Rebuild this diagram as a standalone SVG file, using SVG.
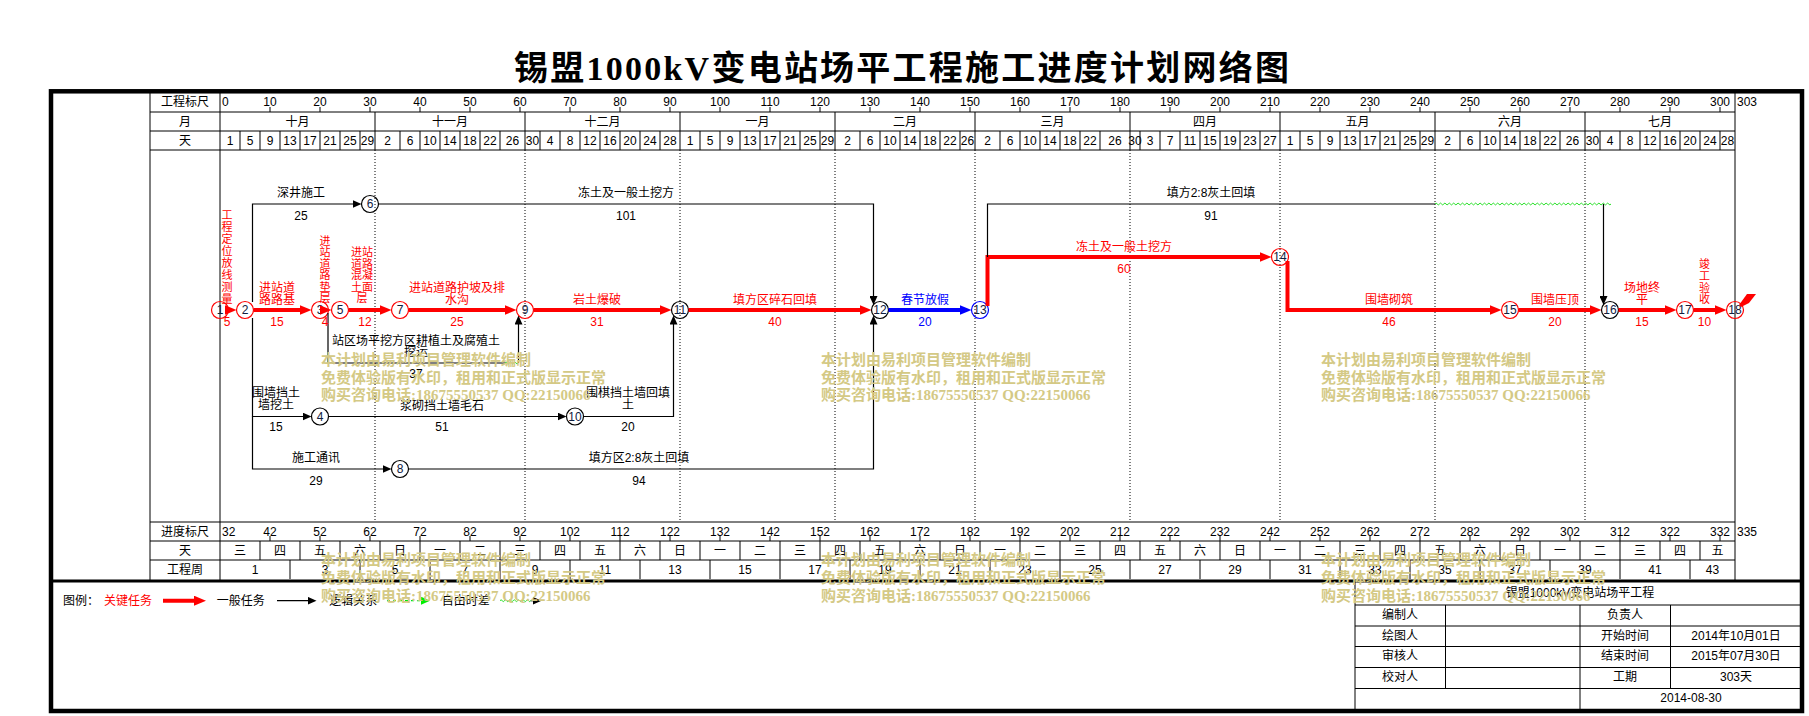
<svg xmlns="http://www.w3.org/2000/svg" width="1809" height="716" viewBox="0 0 1809 716">
<style>
text{font-family:"Liberation Sans","Noto Sans CJK SC",sans-serif;font-size:12px;fill:#000;text-anchor:middle;dominant-baseline:central}
.st{text-anchor:start}
.r{fill:#f00}
.bl{fill:#00f}
.v{font-size:11px}
.g{stroke:#000;stroke-width:1;fill:none}
.dot{stroke:#000;stroke-width:1;stroke-dasharray:1 2;fill:none}
.crit{stroke:#f00;stroke-width:4;fill:none;marker-end:url(#ar)}
.blu{stroke:#00f;stroke-width:4;fill:none;marker-end:url(#ab)}
.norm{stroke:#000;stroke-width:1.2;fill:none}
.arr{marker-end:url(#ak)}
.wave{stroke:#22e022;stroke-width:1;fill:none}
.nd{fill:none;stroke-width:1.2}
.nr{stroke:#f00}.nk{stroke:#000}.nb{stroke:#00f}
.num{fill:#102040}
.wm{font-family:"Liberation Serif","Noto Sans CJK SC",serif;font-weight:bold;font-size:15px;fill:#d4c985;text-anchor:start}
</style>
<defs>
<marker id="ar" viewBox="0 0 12 10" refX="4" refY="5" markerWidth="12" markerHeight="10" markerUnits="userSpaceOnUse" orient="auto"><path d="M0,0L12,5L0,10z" fill="#f00"/></marker>
<marker id="ab" viewBox="0 0 12 10" refX="4" refY="5" markerWidth="12" markerHeight="10" markerUnits="userSpaceOnUse" orient="auto"><path d="M0,0L12,5L0,10z" fill="#00f"/></marker>
<marker id="ak" viewBox="0 0 9 8" refX="2" refY="4" markerWidth="9" markerHeight="8" markerUnits="userSpaceOnUse" orient="auto"><path d="M0,0L9,4L0,8z" fill="#000"/></marker>
<marker id="ag" viewBox="0 0 9 8" refX="2" refY="4" markerWidth="9" markerHeight="8" markerUnits="userSpaceOnUse" orient="auto"><path d="M0,0L9,4L0,8z" fill="#0e0"/></marker>
</defs>
<rect width="1809" height="716" fill="#fff"/>
<text x="901.5" y="68" style="font-family:'Liberation Serif','Noto Sans CJK SC',serif;font-size:34px;font-weight:bold" textLength="775" lengthAdjust="spacing">锡盟1000kV变电站场平工程施工进度计划网络图</text>
<rect x="51" y="91.3" width="1751" height="619.7" fill="none" stroke="#000" stroke-width="4.5"/>
<g id="grid">
<path class="g" d="M150,91V581M220,91V581M1735,91V581M150,112H1735M150,131H1735M150,150H1735M150,522H1735M150,541H1735M150,560H1735"/>
<path d="M51,581H1802" stroke="#000" stroke-width="3"/>
<path class="g" d="M375,112V131M525,112V131M680,112V131M835,112V131M975,112V131M1130,112V131M1280,112V131M1435,112V131M1585,112V131"/>
<path class="g" d="M240,131V150M260,131V150M280,131V150M300,131V150M320,131V150M340,131V150M360,131V150M375,131V150M400,131V150M420,131V150M440,131V150M460,131V150M480,131V150M500,131V150M525,131V150M540,131V150M560,131V150M580,131V150M600,131V150M620,131V150M640,131V150M660,131V150M680,131V150M700,131V150M720,131V150M740,131V150M760,131V150M780,131V150M800,131V150M820,131V150M835,131V150M860,131V150M880,131V150M900,131V150M920,131V150M940,131V150M960,131V150M975,131V150M1000,131V150M1020,131V150M1040,131V150M1060,131V150M1080,131V150M1100,131V150M1130,131V150M1140,131V150M1160,131V150M1180,131V150M1200,131V150M1220,131V150M1240,131V150M1260,131V150M1280,131V150M1300,131V150M1320,131V150M1340,131V150M1360,131V150M1380,131V150M1400,131V150M1420,131V150M1435,131V150M1460,131V150M1480,131V150M1500,131V150M1520,131V150M1540,131V150M1560,131V150M1585,131V150M1600,131V150M1620,131V150M1640,131V150M1660,131V150M1680,131V150M1700,131V150M1720,131V150"/>
<path class="g" d="M270,107V112M320,107V112M370,107V112M420,107V112M470,107V112M520,107V112M570,107V112M620,107V112M670,107V112M720,107V112M770,107V112M820,107V112M870,107V112M920,107V112M970,107V112M1020,107V112M1070,107V112M1120,107V112M1170,107V112M1220,107V112M1270,107V112M1320,107V112M1370,107V112M1420,107V112M1470,107V112M1520,107V112M1570,107V112M1620,107V112M1670,107V112M1720,107V112"/>
<path class="g" d="M270,536V541M320,536V541M370,536V541M420,536V541M470,536V541M520,536V541M570,536V541M620,536V541M670,536V541M720,536V541M770,536V541M820,536V541M870,536V541M920,536V541M970,536V541M1020,536V541M1070,536V541M1120,536V541M1170,536V541M1220,536V541M1270,536V541M1320,536V541M1370,536V541M1420,536V541M1470,536V541M1520,536V541M1570,536V541M1620,536V541M1670,536V541M1720,536V541"/>
<path class="g" d="M260,541V560M300,541V560M340,541V560M380,541V560M420,541V560M460,541V560M500,541V560M540,541V560M580,541V560M620,541V560M660,541V560M700,541V560M740,541V560M780,541V560M820,541V560M860,541V560M900,541V560M940,541V560M980,541V560M1020,541V560M1060,541V560M1100,541V560M1140,541V560M1180,541V560M1220,541V560M1260,541V560M1300,541V560M1340,541V560M1380,541V560M1420,541V560M1460,541V560M1500,541V560M1540,541V560M1580,541V560M1620,541V560M1660,541V560M1700,541V560"/>
<path class="g" d="M290,560V579M360,560V579M430,560V579M500,560V579M570,560V579M640,560V579M710,560V579M780,560V579M850,560V579M920,560V579M990,560V579M1060,560V579M1130,560V579M1200,560V579M1270,560V579M1340,560V579M1410,560V579M1480,560V579M1550,560V579M1620,560V579M1690,560V579"/>
<path class="dot" d="M375,150V522M525,150V522M680,150V522M835,150V522M975,150V522M1130,150V522M1280,150V522M1435,150V522M1585,150V522"/>
</g>
<g id="header">
<text x="185" y="101.5">工程标尺</text><text x="185" y="121.5">月</text><text x="185" y="140.5">天</text>
<text x="222" y="101.5" class="st">0</text><text x="270" y="101.5">10</text><text x="320" y="101.5">20</text><text x="370" y="101.5">30</text><text x="420" y="101.5">40</text><text x="470" y="101.5">50</text><text x="520" y="101.5">60</text><text x="570" y="101.5">70</text><text x="620" y="101.5">80</text><text x="670" y="101.5">90</text><text x="720" y="101.5">100</text><text x="770" y="101.5">110</text><text x="820" y="101.5">120</text><text x="870" y="101.5">130</text><text x="920" y="101.5">140</text><text x="970" y="101.5">150</text><text x="1020" y="101.5">160</text><text x="1070" y="101.5">170</text><text x="1120" y="101.5">180</text><text x="1170" y="101.5">190</text><text x="1220" y="101.5">200</text><text x="1270" y="101.5">210</text><text x="1320" y="101.5">220</text><text x="1370" y="101.5">230</text><text x="1420" y="101.5">240</text><text x="1470" y="101.5">250</text><text x="1520" y="101.5">260</text><text x="1570" y="101.5">270</text><text x="1620" y="101.5">280</text><text x="1670" y="101.5">290</text><text x="1720" y="101.5">300</text><text x="1737" y="101.5" class="st">303</text>
<text x="297.5" y="121.5">十月</text><text x="450" y="121.5">十一月</text><text x="602.5" y="121.5">十二月</text><text x="757.5" y="121.5">一月</text><text x="905" y="121.5">二月</text><text x="1052.5" y="121.5">三月</text><text x="1205" y="121.5">四月</text><text x="1357.5" y="121.5">五月</text><text x="1510" y="121.5">六月</text><text x="1660" y="121.5">七月</text>
<text x="230" y="140.5">1</text><text x="250" y="140.5">5</text><text x="270" y="140.5">9</text><text x="290" y="140.5">13</text><text x="310" y="140.5">17</text><text x="330" y="140.5">21</text><text x="350" y="140.5">25</text><text x="367.5" y="140.5">29</text><text x="387.5" y="140.5">2</text><text x="410" y="140.5">6</text><text x="430" y="140.5">10</text><text x="450" y="140.5">14</text><text x="470" y="140.5">18</text><text x="490" y="140.5">22</text><text x="512.5" y="140.5">26</text><text x="532.5" y="140.5">30</text><text x="550" y="140.5">4</text><text x="570" y="140.5">8</text><text x="590" y="140.5">12</text><text x="610" y="140.5">16</text><text x="630" y="140.5">20</text><text x="650" y="140.5">24</text><text x="670" y="140.5">28</text><text x="690" y="140.5">1</text><text x="710" y="140.5">5</text><text x="730" y="140.5">9</text><text x="750" y="140.5">13</text><text x="770" y="140.5">17</text><text x="790" y="140.5">21</text><text x="810" y="140.5">25</text><text x="827.5" y="140.5">29</text><text x="847.5" y="140.5">2</text><text x="870" y="140.5">6</text><text x="890" y="140.5">10</text><text x="910" y="140.5">14</text><text x="930" y="140.5">18</text><text x="950" y="140.5">22</text><text x="967.5" y="140.5">26</text><text x="987.5" y="140.5">2</text><text x="1010" y="140.5">6</text><text x="1030" y="140.5">10</text><text x="1050" y="140.5">14</text><text x="1070" y="140.5">18</text><text x="1090" y="140.5">22</text><text x="1115" y="140.5">26</text><text x="1135" y="140.5">30</text><text x="1150" y="140.5">3</text><text x="1170" y="140.5">7</text><text x="1190" y="140.5">11</text><text x="1210" y="140.5">15</text><text x="1230" y="140.5">19</text><text x="1250" y="140.5">23</text><text x="1270" y="140.5">27</text><text x="1290" y="140.5">1</text><text x="1310" y="140.5">5</text><text x="1330" y="140.5">9</text><text x="1350" y="140.5">13</text><text x="1370" y="140.5">17</text><text x="1390" y="140.5">21</text><text x="1410" y="140.5">25</text><text x="1427.5" y="140.5">29</text><text x="1447.5" y="140.5">2</text><text x="1470" y="140.5">6</text><text x="1490" y="140.5">10</text><text x="1510" y="140.5">14</text><text x="1530" y="140.5">18</text><text x="1550" y="140.5">22</text><text x="1572.5" y="140.5">26</text><text x="1592.5" y="140.5">30</text><text x="1610" y="140.5">4</text><text x="1630" y="140.5">8</text><text x="1650" y="140.5">12</text><text x="1670" y="140.5">16</text><text x="1690" y="140.5">20</text><text x="1710" y="140.5">24</text><text x="1727.5" y="140.5">28</text>
</g>
<g id="bottom-scale">
<text x="185" y="531.5">进度标尺</text><text x="185" y="550.5">天</text><text x="185" y="570">工程周</text>
<text x="222" y="531.5" class="st">32</text><text x="270" y="531.5">42</text><text x="320" y="531.5">52</text><text x="370" y="531.5">62</text><text x="420" y="531.5">72</text><text x="470" y="531.5">82</text><text x="520" y="531.5">92</text><text x="570" y="531.5">102</text><text x="620" y="531.5">112</text><text x="670" y="531.5">122</text><text x="720" y="531.5">132</text><text x="770" y="531.5">142</text><text x="820" y="531.5">152</text><text x="870" y="531.5">162</text><text x="920" y="531.5">172</text><text x="970" y="531.5">182</text><text x="1020" y="531.5">192</text><text x="1070" y="531.5">202</text><text x="1120" y="531.5">212</text><text x="1170" y="531.5">222</text><text x="1220" y="531.5">232</text><text x="1270" y="531.5">242</text><text x="1320" y="531.5">252</text><text x="1370" y="531.5">262</text><text x="1420" y="531.5">272</text><text x="1470" y="531.5">282</text><text x="1520" y="531.5">292</text><text x="1570" y="531.5">302</text><text x="1620" y="531.5">312</text><text x="1670" y="531.5">322</text><text x="1720" y="531.5">332</text><text x="1737" y="531.5" class="st">335</text>
<text x="240" y="550.5">三</text><text x="280" y="550.5">四</text><text x="320" y="550.5">五</text><text x="360" y="550.5">六</text><text x="400" y="550.5">日</text><text x="440" y="550.5">一</text><text x="480" y="550.5">二</text><text x="520" y="550.5">三</text><text x="560" y="550.5">四</text><text x="600" y="550.5">五</text><text x="640" y="550.5">六</text><text x="680" y="550.5">日</text><text x="720" y="550.5">一</text><text x="760" y="550.5">二</text><text x="800" y="550.5">三</text><text x="840" y="550.5">四</text><text x="880" y="550.5">五</text><text x="920" y="550.5">六</text><text x="960" y="550.5">日</text><text x="1000" y="550.5">一</text><text x="1040" y="550.5">二</text><text x="1080" y="550.5">三</text><text x="1120" y="550.5">四</text><text x="1160" y="550.5">五</text><text x="1200" y="550.5">六</text><text x="1240" y="550.5">日</text><text x="1280" y="550.5">一</text><text x="1320" y="550.5">二</text><text x="1360" y="550.5">三</text><text x="1400" y="550.5">四</text><text x="1440" y="550.5">五</text><text x="1480" y="550.5">六</text><text x="1520" y="550.5">日</text><text x="1560" y="550.5">一</text><text x="1600" y="550.5">二</text><text x="1640" y="550.5">三</text><text x="1680" y="550.5">四</text><text x="1717.5" y="550.5">五</text>
<text x="255" y="569.5">1</text><text x="325" y="569.5">3</text><text x="395" y="569.5">5</text><text x="465" y="569.5">7</text><text x="535" y="569.5">9</text><text x="605" y="569.5">11</text><text x="675" y="569.5">13</text><text x="745" y="569.5">15</text><text x="815" y="569.5">17</text><text x="885" y="569.5">19</text><text x="955" y="569.5">21</text><text x="1025" y="569.5">23</text><text x="1095" y="569.5">25</text><text x="1165" y="569.5">27</text><text x="1235" y="569.5">29</text><text x="1305" y="569.5">31</text><text x="1375" y="569.5">33</text><text x="1445" y="569.5">35</text><text x="1515" y="569.5">37</text><text x="1585" y="569.5">39</text><text x="1655" y="569.5">41</text><text x="1712.5" y="569.5">43</text>
</g>
<g id="node1"><circle class="nd nr" cx="220" cy="310" r="8.5"/><text class="num" x="220" y="310">1</text></g>
<g id="node2"><circle class="nd nr" cx="245" cy="310" r="8.5"/><text class="num" x="245" y="310">2</text></g>
<g id="node3"><circle class="nd nr" cx="320" cy="310" r="8.5"/><text class="num" x="320" y="310">3</text></g>
<g id="node4"><circle class="nd nk" cx="320" cy="416.5" r="8.5"/><text class="num" x="320" y="416.5">4</text></g>
<g id="node5"><circle class="nd nr" cx="340" cy="310" r="8.5"/><text class="num" x="340" y="310">5</text></g>
<g id="node6"><circle class="nd nk" cx="370" cy="204" r="8.5"/><text class="num" x="370" y="204">6</text></g>
<g id="node7"><circle class="nd nr" cx="400" cy="310" r="8.5"/><text class="num" x="400" y="310">7</text></g>
<g id="node8"><circle class="nd nk" cx="400" cy="469" r="8.5"/><text class="num" x="400" y="469">8</text></g>
<g id="node9"><circle class="nd nr" cx="525" cy="310" r="8.5"/><text class="num" x="525" y="310">9</text></g>
<g id="node10"><circle class="nd nk" cx="575" cy="416.5" r="8.5"/><text class="num" x="575" y="416.5">10</text></g>
<g id="node11"><circle class="nd nk" cx="680" cy="310" r="8.5"/><text class="num" x="680" y="310">11</text></g>
<g id="node12"><circle class="nd nk" cx="880" cy="310" r="8.5"/><text class="num" x="880" y="310">12</text></g>
<g id="node13"><circle class="nd nb" cx="980" cy="310" r="8.5"/><text class="num" x="980" y="310">13</text></g>
<g id="node14"><circle class="nd nr" cx="1280" cy="257" r="8.5"/><text class="num" x="1280" y="257">14</text></g>
<g id="node15"><circle class="nd nr" cx="1510" cy="310" r="8.5"/><text class="num" x="1510" y="310">15</text></g>
<g id="node16"><circle class="nd nk" cx="1610" cy="310" r="8.5"/><text class="num" x="1610" y="310">16</text></g>
<g id="node17"><circle class="nd nr" cx="1685" cy="310" r="8.5"/><text class="num" x="1685" y="310">17</text></g>
<g id="node18"><circle class="nd nr" cx="1735" cy="310" r="8.5"/><text class="num" x="1735" y="310">18</text><polygon points="1739,305 1747,294 1756,294 1749,303 1741,307" fill="#f00"/></g>
<g id="connectors">
<path class="crit" d="M226,310H228.5"/>
<path class="crit" d="M253.5,310H303.5"/>
<path class="crit" d="M321,310H323.5"/>
<path class="crit" d="M348.5,310H383.5"/>
<path class="crit" d="M408.5,310H508.5"/>
<path class="crit" d="M533.5,310H663.5"/>
<path class="crit" d="M688.5,310H863.5"/>
<path class="blu" d="M888.5,310H963.5"/>
<path class="crit" d="M987.5,306V257H1263.5"/>
<path class="crit" d="M1287.5,261V310H1493.5"/>
<path class="crit" d="M1518.5,310H1593.5"/>
<path class="crit" d="M1618.5,310H1668.5"/>
<path class="crit" d="M1693.5,310H1718.5"/>
<path class="norm arr" d="M252.5,302V204H354.5"/>
<path class="norm arr" d="M252.5,318V416.5H304.5"/>
<path class="norm arr" d="M252.5,416.5V469H384.5"/>
<path class="norm arr" d="M378.5,204H873.5V298"/>
<path class="norm arr" d="M408.5,469H873.5V322.5"/>
<path class="norm" d="M328,313V363H505"/>
<path class="wave" d="M505,363q1.1,-1.8 2.2,0t2.2,0t2.2,0t2.2,0t2.2,0t2.2,0"/>
<path class="norm arr" d="M518.5,363V322.5"/>
<path class="norm arr" d="M328.5,416.5H559.5"/>
<path class="norm arr" d="M583.5,416.5H673.5V322.5"/>
<path class="norm" d="M987.5,257V204H1435"/>
<path class="wave" d="M1435,204q1.1,-1.8 2.2,0t2.2,0t2.2,0t2.2,0t2.2,0t2.2,0t2.2,0t2.2,0t2.2,0t2.2,0t2.2,0t2.2,0t2.2,0t2.2,0t2.2,0t2.2,0t2.2,0t2.2,0t2.2,0t2.2,0t2.2,0t2.2,0t2.2,0t2.2,0t2.2,0t2.2,0t2.2,0t2.2,0t2.2,0t2.2,0t2.2,0t2.2,0t2.2,0t2.2,0t2.2,0t2.2,0t2.2,0t2.2,0t2.2,0t2.2,0t2.2,0t2.2,0t2.2,0t2.2,0t2.2,0t2.2,0t2.2,0t2.2,0t2.2,0t2.2,0t2.2,0t2.2,0t2.2,0t2.2,0t2.2,0t2.2,0t2.2,0t2.2,0t2.2,0t2.2,0t2.2,0t2.2,0t2.2,0t2.2,0t2.2,0t2.2,0t2.2,0t2.2,0t2.2,0t2.2,0t2.2,0t2.2,0t2.2,0t2.2,0t2.2,0t2.2,0t2.2,0t2.2,0t2.2,0t2.2,0"/>
<path class="norm arr" d="M1603.5,204V298"/>
</g>
<g id="labels">
<text class="r v" x="227" y="215">工<tspan x="227" y="227">程</tspan><tspan x="227" y="239">定</tspan><tspan x="227" y="251">位</tspan><tspan x="227" y="263">放</tspan><tspan x="227" y="275">线</tspan><tspan x="227" y="287">测</tspan><tspan x="227" y="299">量</tspan></text>
<text class="r" x="227" y="322">5</text>
<text class="r" x="277" y="287.8">进站道</text><text class="r" x="277" y="299.5">路路基</text><text class="r" x="277" y="322">15</text>
<text class="r v" x="325" y="240.5">进<tspan x="325" y="252">站</tspan><tspan x="325" y="263.5">道</tspan><tspan x="325" y="275">路</tspan><tspan x="325" y="286.5">垫</tspan><tspan x="325" y="298">层</tspan></text>
<text class="r" x="325" y="322">4</text>
<text class="r v" x="362" y="252">进站</text><text class="r v" x="362" y="263.5">道路</text><text class="r v" x="362" y="275">混凝</text><text class="r v" x="362" y="286.5">土面</text><text class="r v" x="362" y="298">层</text><text class="r" x="365" y="322">12</text>
<text class="r" x="457" y="287.8">进站道路护坡及排</text><text class="r" x="457" y="299.5">水沟</text><text class="r" x="457" y="322">25</text>
<text class="r" x="597" y="299.5">岩土爆破</text><text class="r" x="597" y="322">31</text>
<text class="r" x="775" y="299.5">填方区碎石回填</text><text class="r" x="775" y="322">40</text>
<text class="bl" x="925" y="299.5">春节放假</text><text class="bl" x="925" y="322">20</text>
<text class="r" x="1124" y="246.7">冻土及一般土挖方</text><text class="r" x="1124" y="268.7">60</text>
<text class="r" x="1389" y="299.5">围墙砌筑</text><text class="r" x="1389" y="322">46</text>
<text class="r" x="1555" y="299.5">围墙压顶</text><text class="r" x="1555" y="322">20</text>
<text class="r" x="1642" y="287.8">场地终</text><text class="r" x="1642" y="299.5">平</text><text class="r" x="1642" y="322">15</text>
<text class="r v" x="1704.5" y="264.3">竣<tspan x="1704.5" y="276">工</tspan><tspan x="1704.5" y="287.7">验</tspan><tspan x="1704.5" y="299.3">收</tspan></text>
<text class="r" x="1704.5" y="322">10</text>
<text x="301" y="193.3">深井施工</text><text x="301" y="216">25</text>
<text x="626" y="193.3">冻土及一般土挖方</text><text x="626" y="216">101</text>
<text x="1211" y="193.3">填方2:8灰土回填</text><text x="1211" y="216">91</text>
<text x="416" y="340.7">站区场平挖方区耕植土及腐殖土</text><text x="416" y="352.3">挖运</text><text x="416" y="374">37</text>
<text x="276" y="392.7">围墙挡土</text><text x="276" y="405.3">墙挖土</text><text x="276" y="427.3">15</text>
<text x="442" y="406">浆砌挡土墙毛石</text><text x="442" y="427.3">51</text>
<text x="628" y="392.7">围棋挡土墙回填</text><text x="628" y="405.3">土</text><text x="628" y="427.3">20</text>
<text x="316" y="458.3">施工通讯</text><text x="316" y="480.7">29</text>
<text x="639" y="458.3">填方区2:8灰土回填</text><text x="639" y="480.7">94</text>
</g>
<g id="legend">
<text x="63" y="600.7" class="st">图例：</text>
<text x="104" y="600.7" class="st r">关键任务</text>
<path class="crit" d="M163,600.7H198"/>
<text x="216.7" y="600.7" class="st">一般任务</text>
<path class="norm arr" d="M277,600.7H309.5"/>
<text x="329.3" y="600.7" class="st">逻辑关系</text>
<path d="M387,600.7H423" stroke="#0e0" stroke-width="1.2" stroke-dasharray="3 3" fill="none" marker-end="url(#ag)"/>
<text x="441.7" y="600.7" class="st">自由时差</text>
<path class="wave" d="M500,600.7q1.1,-1.8 2.2,0t2.2,0t2.2,0t2.2,0t2.2,0t2.2,0t2.2,0t2.2,0t2.2,0t2.2,0t2.2,0t2.2,0t2.2,0t2.2,0"/>
<path class="norm arr" d="M530.8,600.7H534.5"/>
</g>
<g id="title-block">
<path class="g" d="M1355,581V711M1355,605H1802M1355,626H1802M1355,646.5H1802M1355,667.5H1802M1355,688.5H1802M1445.5,605V688.5M1580,605V711M1670.5,605V688.5"/>
<text x="1580" y="593">锡盟1000kV变电站场平工程</text>
<text x="1400" y="614.5">编制人</text><text x="1625" y="614.5">负责人</text>
<text x="1400" y="635.5">绘图人</text><text x="1625" y="635.5">开始时间</text><text x="1736" y="635.5">2014年10月01日</text>
<text x="1400" y="656">审核人</text><text x="1625" y="656">结束时间</text><text x="1736" y="656">2015年07月30日</text>
<text x="1400" y="677">校对人</text><text x="1625" y="677">工期</text><text x="1736" y="677">303天</text>
<text x="1691" y="698">2014-08-30</text>
</g>
<g id="watermark">
<text class="wm" x="321" y="359.5">本计划由易利项目管理软件编制</text><text class="wm" x="321" y="377.5">免费体验版有水印，租用和正式版显示正常</text><text class="wm" x="321" y="395">购买咨询电话:18675550537 QQ:22150066</text>
<text class="wm" x="821" y="359.5">本计划由易利项目管理软件编制</text><text class="wm" x="821" y="377.5">免费体验版有水印，租用和正式版显示正常</text><text class="wm" x="821" y="395">购买咨询电话:18675550537 QQ:22150066</text>
<text class="wm" x="1321" y="359.5">本计划由易利项目管理软件编制</text><text class="wm" x="1321" y="377.5">免费体验版有水印，租用和正式版显示正常</text><text class="wm" x="1321" y="395">购买咨询电话:18675550537 QQ:22150066</text>
<text class="wm" x="321" y="560">本计划由易利项目管理软件编制</text><text class="wm" x="321" y="578">免费体验版有水印，租用和正式版显示正常</text><text class="wm" x="321" y="596">购买咨询电话:18675550537 QQ:22150066</text>
<text class="wm" x="821" y="560">本计划由易利项目管理软件编制</text><text class="wm" x="821" y="578">免费体验版有水印，租用和正式版显示正常</text><text class="wm" x="821" y="596">购买咨询电话:18675550537 QQ:22150066</text>
<text class="wm" x="1321" y="560">本计划由易利项目管理软件编制</text><text class="wm" x="1321" y="578">免费体验版有水印，租用和正式版显示正常</text><text class="wm" x="1321" y="596">购买咨询电话:18675550537 QQ:22150066</text>
</g>
</svg>
